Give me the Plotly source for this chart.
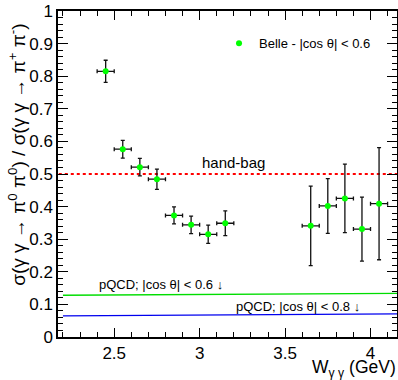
import plotly.graph_objects as go

# Belle data: W (GeV), ratio, errors
w = [2.45, 2.55, 2.65, 2.75, 2.85, 2.95, 3.05, 3.15, 3.65, 3.75, 3.85, 3.95, 4.05]
ratio = [0.815, 0.576, 0.521, 0.484, 0.373, 0.344, 0.315, 0.349, 0.341, 0.402, 0.425, 0.331, 0.409]
ratio_err = [0.034, 0.027, 0.027, 0.031, 0.026, 0.027, 0.028, 0.038, 0.122, 0.084, 0.105, 0.098, 0.172]
w_err = [0.05] * 13

# model lines
handbag_x = [2.0, 4.5]
handbag_y = [0.5, 0.5]
pqcd06_x = [2.2, 4.2]
pqcd06_y = [0.128, 0.134]
pqcd08_x = [2.2, 4.2]
pqcd08_y = [0.065, 0.071]

FONT = "Liberation Sans, Arial, sans-serif"
XR = [2.171, 4.155]
YR = [0, 1]

fig = go.Figure()
fig.add_trace(go.Scatter(x=handbag_x, y=handbag_y, mode="lines",
                         line=dict(color="#ff0000", width=2.2, dash="dot"),
                         showlegend=False, hoverinfo="skip"))
fig.add_trace(go.Scatter(x=pqcd06_x, y=pqcd06_y, mode="lines",
                         line=dict(color="#00dd00", width=1.3),
                         showlegend=False, hoverinfo="skip"))
fig.add_trace(go.Scatter(x=pqcd08_x, y=pqcd08_y, mode="lines",
                         line=dict(color="#0000ee", width=1.3),
                         showlegend=False, hoverinfo="skip"))
fig.add_trace(go.Scatter(
    x=w, y=ratio, mode="markers", name="Belle - |cos θ| < 0.6",
    marker=dict(color="#00ff00", size=6),
    error_y=dict(type="data", array=ratio_err, color="#111111", thickness=1.3, width=2),
    error_x=dict(type="data", array=w_err, color="#111111", thickness=1.3, width=2),
))
# invisible trace on mirrored axes so top/right ticks are drawn
fig.add_trace(go.Scatter(x=[None], y=[None], xaxis="x2", yaxis="y2",
                         showlegend=False, hoverinfo="skip"))

common = dict(showgrid=False, zeroline=False, showline=True, linecolor="black",
              linewidth=1.5, ticks="inside", tickcolor="black", tickwidth=1.2,
              automargin=False)

fig.update_layout(
    width=398, height=380,
    margin=dict(l=58, r=1, t=11, b=43, autoexpand=False),
    paper_bgcolor="white", plot_bgcolor="white",
    font=dict(family=FONT, size=17, color="black"),
    showlegend=True,
    legend=dict(x=0.475, y=0.901, xanchor="left", yanchor="middle",
                bgcolor="rgba(0,0,0,0)", font=dict(size=13, family=FONT),
                itemwidth=30),
    xaxis=dict(range=XR, ticklen=9,
               tickvals=[2.5, 3, 3.5, 4], ticktext=["2.5", "3", "3.5", "4"],
               minor=dict(dtick=0.1, tick0=2.0, ticks="inside", ticklen=5, tickwidth=1, tickcolor="black"),
               tickfont=dict(size=17), **common),
    yaxis=dict(range=YR, ticklen=10, dtick=0.1, tick0=0, tickformat="~g",
               minor=dict(dtick=0.02, tick0=0, ticks="inside", ticklen=5, tickwidth=1, tickcolor="black"),
               tickfont=dict(size=17), **common),
    xaxis2=dict(range=XR, overlaying="x", side="top", anchor="y", ticklen=9,
                tickvals=[2.5, 3, 3.5, 4], showticklabels=False,
                minor=dict(dtick=0.1, tick0=2.0, ticks="inside", ticklen=5, tickwidth=1, tickcolor="black"),
                **common),
    yaxis2=dict(range=YR, overlaying="y", side="right", anchor="x", ticklen=10,
                dtick=0.1, tick0=0, showticklabels=False,
                minor=dict(dtick=0.02, tick0=0, ticks="inside", ticklen=5, tickwidth=1, tickcolor="black"),
                **common),
    annotations=[
        dict(xref="paper", yref="paper", x=-0.122, y=0.558, textangle=-90,
             text="σ(γ γ → π<sup>0</sup> π<sup>0</sup>) / σ(γ γ → π<sup>+</sup> π<sup>-</sup>)",
             showarrow=False, xanchor="center", yanchor="middle",
             font=dict(size=19, family=FONT)),
        dict(xref="paper", yref="paper", x=1.0, y=-0.1335,
             text="W<sub>γ γ</sub> (GeV)", showarrow=False, borderpad=0,
             xanchor="right", yanchor="bottom", font=dict(size=17.5, family=FONT)),
        dict(x=3.0, y=0.503, text="hand-bag", showarrow=False,
             xanchor="left", yanchor="bottom", font=dict(size=15, family=FONT)),
        dict(x=2.4, y=0.16, text="pQCD; |cos θ| < 0.6 ↓", showarrow=False,
             xanchor="left", yanchor="middle", font=dict(size=13, family=FONT)),
        dict(x=3.2, y=0.095, text="pQCD; |cos θ| < 0.8 ↓", showarrow=False,
             xanchor="left", yanchor="middle", font=dict(size=13, family=FONT)),
    ],
)

fig.write_html("out.html")
